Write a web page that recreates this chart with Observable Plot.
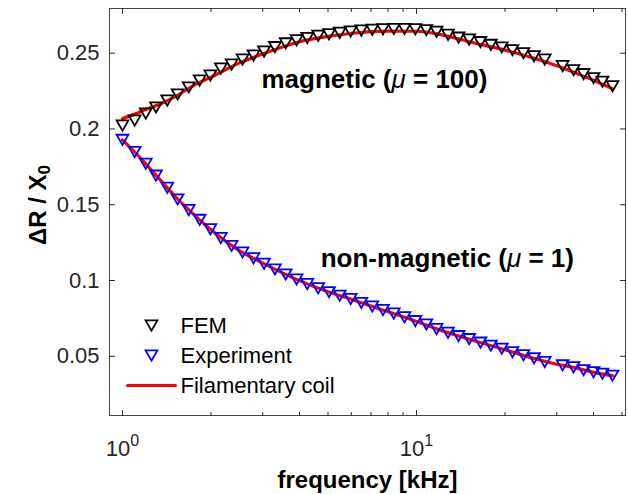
<!DOCTYPE html>
<html><head><meta charset="utf-8">
<script src="https://cdn.jsdelivr.net/npm/d3@7"></script>
<script src="https://cdn.jsdelivr.net/npm/@observablehq/plot@0.6"></script>
<style>body{margin:0;background:#fff;}</style>
</head><body><div id="chart"></div>
<script>
// ---- data ----
const freq = [1, 1.1, 1.2, 1.3, 1.42, 1.54, 1.68, 1.83, 1.99, 2.16, 2.35, 2.56, 2.79, 3.03, 3.3, 3.59, 3.91, 4.25, 4.63, 5.04, 5.48, 5.97, 6.49, 7.07, 7.69, 8.37, 9.1, 9.91, 10.8, 11.7, 12.8, 13.9, 15.1, 16.5, 17.9, 19.5, 21.2, 23.1, 25.1, 27.3, 31.4, 34.2, 37, 40, 42.9, 46.4];
const femMagnetic = [0.2023, 0.2056, 0.2102, 0.2142, 0.2188, 0.2228, 0.2274, 0.2320, 0.2353, 0.2399, 0.2425, 0.2458, 0.2485, 0.2511, 0.2540, 0.2565, 0.2585, 0.2600, 0.2615, 0.2625, 0.2635, 0.2643, 0.2650, 0.2655, 0.2658, 0.2660, 0.2660, 0.2658, 0.2652, 0.2641, 0.2622, 0.2603, 0.2590, 0.2573, 0.2555, 0.2538, 0.2520, 0.2500, 0.2480, 0.2458, 0.2415, 0.2388, 0.2362, 0.2335, 0.2312, 0.2282];
const expNonMagnetic = [0.1928, 0.1848, 0.1770, 0.1692, 0.1612, 0.1535, 0.1465, 0.1400, 0.1338, 0.1280, 0.1228, 0.1185, 0.1147, 0.1110, 0.1073, 0.1040, 0.1007, 0.0977, 0.0949, 0.0923, 0.0900, 0.0878, 0.0852, 0.0828, 0.0805, 0.0782, 0.0757, 0.0732, 0.0710, 0.0680, 0.0655, 0.0633, 0.0613, 0.0590, 0.0570, 0.0550, 0.0527, 0.0507, 0.0486, 0.0462, 0.0440, 0.0427, 0.0408, 0.0394, 0.0385, 0.0372];
const filFreq = [1, 1.1, 1.2, 1.35, 1.5, 1.75, 2, 2.5, 3, 4, 5, 6, 7, 8, 10, 12, 15, 20, 25, 30, 35, 40, 46.4];
const filMagnetic = [0.2068, 0.2098, 0.2128, 0.2166, 0.2210, 0.2288, 0.2342, 0.2436, 0.2495, 0.2576, 0.2611, 0.2630, 0.2642, 0.2646, 0.2645, 0.2624, 0.2577, 0.2520, 0.2468, 0.2417, 0.2367, 0.2322, 0.2266];
const filNonMagnetic = [0.1928, 0.1848, 0.1770, 0.1659, 0.1561, 0.1435, 0.1335, 0.1197, 0.1115, 0.0999, 0.0925, 0.0876, 0.0831, 0.0794, 0.0730, 0.0673, 0.0614, 0.0543, 0.0487, 0.0447, 0.0422, 0.0394, 0.0372];

const yTicks = [0.05, 0.1, 0.15, 0.2, 0.25];
const yTickLabels = ["0.05", "0.1", "0.15", "0.2", "0.25"];
const xMajorTicks = [1, 10];
const xTickLabels = ["10^0", "10^1"];
const xMinorTicks = [2, 3, 4, 5, 6, 7, 8, 9, 20, 30, 40, 50];
const xLabel = "frequency [kHz]";
const yLabel = "ΔR / X_0";
const annotText = ["magnetic (μ = 100)", "non-magnetic (μ = 1)"];
const annotX = [2.97, 4.72];
const annotY = [0.2272, 0.1086];
const legendLabels = ["FEM", "Experiment", "Filamentary coil"];

// ---- styles ----
const font = "'Liberation Sans', Arial, Helvetica, sans-serif";
const axisColor = "#262626";
const red = "#ff0000", blue = "#0000ff", black = "#000000";
const markerR = 4.3, markerStroke = 1.8;
const tickShape = {draw(context, l) { context.moveTo(0, 0); context.lineTo(0, -l); }};
const triangleDown = {draw(context, size) {
  const s = Math.sqrt(size) * 1.55, h = s * Math.sqrt(3) / 2;
  context.moveTo(-s / 2, -h / 2); context.lineTo(s / 2, -h / 2); context.lineTo(0, h / 2); context.closePath();
}};
const tickMarks = (values, anchor, rotate, length) => Plot.vector(values, {
  [anchor === "top" || anchor === "bottom" ? "x" : "y"]: d => d,
  frameAnchor: anchor, rotate, length, anchor: "start", shape: tickShape, stroke: axisColor, strokeWidth: 1
});

const chart = Plot.plot({
  width: 628, height: 494,
  marginLeft: 109, marginRight: 3, marginTop: 8, marginBottom: 79,
  x: {type: "log", domain: [0.9032, 51.38], axis: null},
  y: {domain: [0.0109, 0.2795], axis: null},
  style: {fontFamily: font, background: "#fff", overflow: "visible"},
  marks: [
    Plot.line(filFreq, {x: filFreq, y: filMagnetic, stroke: red, strokeWidth: 3.2, curve: "monotone-x"}),
    Plot.line(filFreq, {x: filFreq, y: filNonMagnetic, stroke: red, strokeWidth: 3.2, curve: "monotone-x"}),
    Plot.dot(freq, {x: freq, y: femMagnetic, symbol: triangleDown, r: markerR, stroke: black, fill: "none", strokeWidth: markerStroke}),
    Plot.dot(freq, {x: freq, y: expNonMagnetic, symbol: triangleDown, r: markerR, stroke: blue, fill: "none", strokeWidth: markerStroke}),
    Plot.frame({stroke: "#444", strokeWidth: 1}),
    tickMarks(xMajorTicks, "bottom", 0, 5),
    tickMarks(xMinorTicks, "bottom", 0, 3),
    tickMarks(xMajorTicks, "top", 180, 5),
    tickMarks(xMinorTicks, "top", 180, 3),
    tickMarks(yTicks, "left", 90, 5),
    tickMarks(yTicks, "right", 270, 5),
    Plot.text(yTicks, {y: d => d, frameAnchor: "left", dx: -10, textAnchor: "end", lineAnchor: "middle",
      text: (d, i) => yTickLabels[i], fontSize: 22, fill: axisColor}),
    Plot.text(xMajorTicks, {x: d => d, frameAnchor: "bottom", dy: 40, lineAnchor: "bottom", textAnchor: "middle",
      text: (d, i) => xTickLabels[i], fontSize: 22, fill: axisColor}),
    Plot.text([xLabel], {frameAnchor: "bottom", dy: 72, lineAnchor: "bottom", textAnchor: "middle", text: d => d,
      fontSize: 24, fontWeight: "bold", fill: black}),
    Plot.text([yLabel], {frameAnchor: "left", dx: -64, dy: -7, rotate: -90, lineAnchor: "bottom", textAnchor: "middle", text: d => d,
      fontSize: 24, fontWeight: "bold", fill: black}),
    Plot.text(annotText, {x: annotX, y: annotY, text: d => d, textAnchor: "start", lineAnchor: "bottom",
      fontSize: 26, fontWeight: "bold", fill: black}),
    Plot.dot([0], {frameAnchor: "bottom-left", dx: 42, dy: -90, symbol: triangleDown, r: markerR, stroke: black, fill: "none", strokeWidth: markerStroke}),
    Plot.dot([0], {frameAnchor: "bottom-left", dx: 42, dy: -60, symbol: triangleDown, r: markerR, stroke: blue, fill: "none", strokeWidth: markerStroke}),
    Plot.vector([0], {frameAnchor: "bottom-left", dx: 18, dy: -30, length: 48, rotate: 90, anchor: "start", shape: tickShape, stroke: red, strokeWidth: 3.2}),
    ...legendLabels.map((label, i) => Plot.text([label], {frameAnchor: "bottom-left", dx: 71, dy: -90 + 30 * i,
      text: d => d, textAnchor: "start", lineAnchor: "middle", fontSize: 22, fill: black}))
  ]
});

// rich text: superscripts, subscripts, italic mu
d3.select(chart).selectAll("text").each(function() {
  const t = this.textContent;
  const sel = d3.select(this);
  if (t.includes("^")) {
    const [b, e] = t.split("^");
    sel.text(null);
    sel.append("tspan").text(b);
    sel.append("tspan").attr("font-size", "16px").attr("dy", "-0.62em").text(e);
  } else if (t.includes("_")) {
    const [b, e] = t.split("_");
    sel.text(null);
    sel.append("tspan").text(b);
    sel.append("tspan").attr("font-size", "17px").attr("dy", "0.25em").text(e);
  } else if (t.includes("μ")) {
    const [a, b] = t.split("μ");
    sel.text(null);
    sel.append("tspan").text(a);
    sel.append("tspan").attr("font-style", "italic").attr("font-weight", "normal").text("μ");
    sel.append("tspan").text(b);
  }
});

document.getElementById("chart").append(chart);
</script>
</body></html>
